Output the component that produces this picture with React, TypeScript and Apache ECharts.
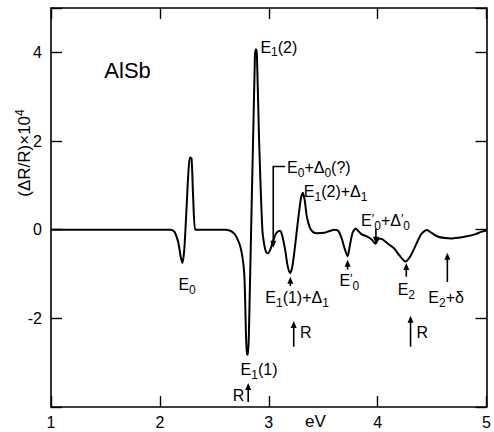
import React, { useEffect, useRef } from "react";
import * as echarts from "echarts";

// Photon energy (eV) and electroreflectance signal (ΔR/R ×10^4)
const energy = [
  1.0, 1.5, 2.0, 2.097, 2.134, 2.17, 2.19, 2.207, 2.224, 2.243, 2.262, 2.276, 2.291, 2.306, 2.324,
  2.35, 2.45, 2.596, 2.651, 2.687, 2.714, 2.741, 2.76, 2.775, 2.782, 2.791, 2.8, 2.809, 2.818,
  2.873, 2.882, 2.891, 2.911, 2.941, 2.959, 2.975, 2.995, 3.014, 3.041, 3.068, 3.095, 3.107,
  3.125, 3.15, 3.172, 3.195, 3.215, 3.24, 3.268, 3.295, 3.313, 3.331, 3.349, 3.376, 3.404,
  3.44, 3.512, 3.558, 3.603, 3.639, 3.67, 3.7, 3.724, 3.745, 3.77, 3.796, 3.812, 3.85, 3.9,
  3.945, 3.98, 4.011, 4.045, 4.1, 4.15, 4.2, 4.256, 4.3, 4.35, 4.4, 4.45, 4.5, 4.556, 4.619,
  4.673, 4.746, 4.819, 4.898, 4.95, 5.0,
];
const signal = [
  0, 0, 0, 0, -0.05, -0.3, -0.6, -0.75, -0.45, 0.4, 1.3, 1.63, 1.6, 0.7, 0.0,
  0, 0, 0, -0.03, -0.1, -0.22, -0.4, -0.65, -1.0, -1.5, -2.4, -2.8, -2.82, -2.3,
  3.95, 4.07, 3.95, 2.03, 0.0, -0.35, -0.5, -0.53, -0.45, -0.25, -0.08, -0.03, -0.03,
  -0.15, -0.45, -0.8, -0.98, -0.85, -0.4, 0.2, 0.7, 0.83, 0.65, 0.3, 0.05, -0.05,
  -0.08, -0.07, -0.03, 0.0, -0.03, -0.2, -0.45, -0.6, -0.35, -0.07, 0.02, 0.0, -0.1, -0.15,
  -0.22, -0.32, -0.2, -0.22, -0.33, -0.42, -0.58, -0.72, -0.6, -0.35, -0.1, -0.01, -0.08, -0.16, -0.19,
  -0.2, -0.18, -0.15, -0.1, -0.05, -0.02,
];

const xTicks = [1, 2, 3, 4, 5];
const yTickLabels = [-2, 0, 2, 4];

// Annotation texts (data coordinates: left edge, vertical centre)
const noteTexts = ["AlSb", "E{s|0}", "E{s|1}(1)", "R", "E{s|1}(2)", "E{s|0}+Δ{s|0}(?)", "E{s|1}(2)+Δ{s|1}",
  "E{s|1}(1)+Δ{s|1}", "R", "E{p|′}{s|0}", "E{p|′}{s|0}+Δ{p|′}{s|0}", "E{s|2}", "R", "E{s|2}+δ"];
const noteX = [1.49, 2.17, 2.741, 2.669, 2.923, 3.168, 3.322, 2.968, 3.286, 3.649, 3.848, 4.184, 4.356, 4.465];
const noteY = [3.59, -1.24, -3.16, -3.73, 4.11, 1.4, 0.86, -1.54, -2.33, -1.15, 0.2, -1.36, -2.33, -1.54];
const noteSize = [22, 16, 16, 16, 16, 16, 16, 16, 16, 16, 16, 16, 16, 16];

// Arrows: x position, tail value, head value
const arrowX = [2.811, 3.198, 3.229, 3.724, 3.984, 4.263, 4.302, 4.64];
const arrowTail = [-3.89, -1.27, -2.64, -0.9, 0.02, -1.06, -2.64, -1.18];
const arrowHead = [-3.46, -1.06, -2.06, -0.68, -0.32, -0.75, -1.94, -0.52];

// Bracket arrow for E0+Δ0(?)
const bracketX = [3.15, 3.041, 3.041];
const bracketY = [1.424, 1.424, -0.41];

const FONT = "Liberation Sans";

const rich = {
  s: { fontSize: 12, fontFamily: FONT, fill: "#000", padding: [10, 0, 0, 0] },
  p: { fontSize: 13, fontFamily: FONT, fill: "#000", padding: [0, 0, 4, 0] },
  sup: { fontSize: 12, fontFamily: FONT, fill: "#000", padding: [0, 0, 9, 0] },
};

export default function App() {
  const ref = useRef<HTMLDivElement>(null);
  useEffect(() => {
    if (!ref.current) return;
    const chart = echarts.init(ref.current, null, { renderer: "svg" });
    const axisLine = { show: true, onZero: false, lineStyle: { color: "#000", width: 1.6 } };
    const axisTick = { show: true, inside: true, length: 11, lineStyle: { color: "#000", width: 1.4 } };
    chart.setOption({
      animation: false,
      backgroundColor: "#fff",
      grid: { left: 51, right: 2, top: 8, bottom: 25, containLabel: false },
      xAxis: [
        {
          type: "value", min: 1, max: 5, interval: 1, position: "bottom",
          axisLine, axisTick,
          axisLabel: {
            margin: 7, color: "#000", fontSize: 16, fontFamily: FONT,
            formatter: (v: number) => (xTicks.includes(v) ? String(v) : ""),
          },
          splitLine: { show: false },
        },
        {
          type: "value", min: 1, max: 5, interval: 1, position: "top",
          axisLine, axisTick,
          axisLabel: { show: false },
          splitLine: { show: false },
        },
      ],
      yAxis: [
        {
          type: "value", min: -4, max: 5, interval: 2, position: "left",
          axisLine, axisTick,
          axisLabel: {
            margin: 9, color: "#000", fontSize: 16, fontFamily: FONT,
            formatter: (v: number) => (yTickLabels.includes(v) ? String(v) : ""),
          },
          splitLine: { show: false },
        },
        {
          type: "value", min: -4, max: 5, interval: 2, position: "right",
          axisLine, axisTick,
          axisLabel: { show: false },
          splitLine: { show: false },
        },
      ],
      series: [
        {
          type: "line",
          xAxisIndex: 0,
          yAxisIndex: 0,
          data: energy.map((e, i) => [e, signal[i]]),
          showSymbol: false,
          smooth: 0.25,
          lineStyle: { color: "#000", width: 2 },
        },
      ],
    });

    const px = (x: number, y: number) => chart.convertToPixel({ gridIndex: 0 }, [x, y]) as number[];
    const graphics: any[] = [];
    noteTexts.forEach((t, i) => {
      const [gx, gy] = px(noteX[i], noteY[i]);
      graphics.push({
        type: "text", x: gx, y: gy,
        style: {
          text: t, rich, fontSize: noteSize[i], fontFamily: FONT, fill: "#000",
          align: "left", verticalAlign: "middle",
        },
      });
    });
    const head = (hx: number, hy: number, dir: number) => ({
      type: "polygon",
      shape: { points: [[hx, hy], [hx - 3, hy - dir * 7], [hx + 3, hy - dir * 7]] },
      style: { fill: "#000" },
    });
    arrowX.forEach((ax, i) => {
      const [x0, y0] = px(ax, arrowTail[i]);
      const [, y1] = px(ax, arrowHead[i]);
      const dir = y1 > y0 ? 1 : -1;
      graphics.push({
        type: "line", shape: { x1: x0, y1: y0, x2: x0, y2: y1 - dir * 4 },
        style: { stroke: "#000", lineWidth: 1.6 },
      });
      graphics.push(head(x0, y1, dir));
    });
    const bpts = bracketX.map((bx, i) => px(bx, bracketY[i]));
    const last = bpts[bpts.length - 1];
    graphics.push({
      type: "polyline",
      shape: { points: [bpts[0], bpts[1], [last[0], last[1] - 4]] },
      style: { stroke: "#000", lineWidth: 1.6, fill: null },
    });
    graphics.push(head(last[0], last[1], 1));
    graphics.push({
      type: "text", x: 305, y: 421,
      style: { text: "eV", fontSize: 17, fontFamily: FONT, fill: "#000", align: "left", verticalAlign: "middle" },
    });
    graphics.push({
      type: "text", x: 24, y: 153, rotation: Math.PI / 2,
      style: {
        text: "(ΔR/R)×10{sup|4}", rich, fontSize: 17, fontFamily: FONT, fill: "#000",
        align: "center", verticalAlign: "middle",
      },
    });
    chart.setOption({ graphic: graphics });
    return () => chart.dispose();
  }, []);
  return <div ref={ref} style={{ width: 494, height: 432, position: "absolute", left: 0, top: 0 }} />;
}
